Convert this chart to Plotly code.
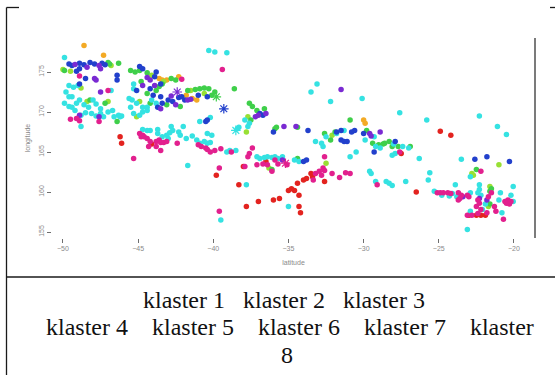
import plotly.graph_objects as go

# ---------------- data (latitude, longitude) ----------------
klaster_names = ["klaster 1", "klaster 2", "klaster 3", "klaster 4",
                 "klaster 5", "klaster 6", "klaster 7", "klaster 8"]
klaster_colors = ["#E3231F", "#F3AA25", "#98E034", "#3FCF4A",
                  "#35E2E2", "#2240CC", "#7A2AD2", "#E2208E"]

k1 = [(-44.1,166.0),(-46.2,166.9),(-46.1,166.1),(-36.5,163.8),(-33.5,162.3),(-33.4,161.9),
      (-33.8,161.7),(-34.0,161.5),(-32.6,161.3),(-27.5,164.8),(-24.9,167.6),(-24.2,167.1),
      (-26.5,160.0),(-34.4,161.1),(-34.6,160.2),(-34.8,160.4),(-35.0,160.2),(-34.3,159.6),
      (-35.6,159.2),(-36.0,159.0),(-37.0,158.8),(-37.8,158.2),(-38.3,160.9),(-38.0,163.2),
      (-39.8,162.1),(-34.3,158.2),(-34.2,157.4),(-23.0,157.1),(-22.5,157.1),(-22.2,157.1),
      (-21.9,157.1)]
k2 = [(-48.6,178.3),(-47.3,177.1),(-43.6,174.2),(-43.4,174.0),(-43.1,174.0),(-42.3,174.4),
      (-41.8,172.1),(-41.4,171.7),(-41.1,171.5),(-30.0,169.0),(-29.9,168.6)]
k3 = [(-50.0,175.3),(-49.5,175.1),(-46.8,175.8),(-48.4,171.3),(-47.0,171.3),(-44.1,174.6),
      (-43.3,173.8),(-40.6,172.3),(-44.9,171.3),(-45.1,169.4),(-37.7,169.4),(-37.8,167.5),
      (-32.1,167.1),(-36.3,163.0),(-32.5,163.6),(-21.0,163.4),(-22.8,162.3),(-22.7,162.1),
      (-21.6,160.7),(-21.7,158.2),(-48.8,173.0),(-41.5,172.7)]
k4 = [(-47.0,176.2),(-46.9,176.0),(-46.3,176.1),(-49.9,175.2),(-48.2,171.5),(-47.2,171.1),
      (-46.4,168.8),(-45.5,175.2),(-45.2,175.0),(-44.9,175.2),(-44.4,174.9),(-43.4,173.5),
      (-42.8,174.2),(-42.5,174.0),(-44.8,173.8),(-43.6,173.2),(-43.8,172.7),(-41.7,172.7),
      (-41.2,172.8),(-40.9,172.9),(-40.6,173.0),(-40.3,172.9),(-39.9,172.5),(-40.1,172.1),
      (-44.4,172.3),(-43.1,170.9),(-42.2,170.7),(-44.2,171.1),(-38.6,172.9),(-37.6,171.1),
      (-37.4,170.7),(-37.1,170.2),(-36.6,170.4),(-37.5,169.0),(-35.9,167.9),(-35.8,168.1),
      (-34.4,168.1),(-34.4,164.2),(-36.1,162.8),(-32.6,167.3),(-31.9,167.5),(-32.2,166.5),
      (-30.9,169.0),(-29.8,167.7),(-29.4,166.1),(-29.0,165.9),(-28.7,166.0),(-28.6,166.1),
      (-28.3,166.3),(-28.1,165.7),(-27.7,165.7),(-26.9,165.7),(-22.5,162.8),(-21.6,160.1),
      (-21.5,160.4),(-21.6,158.5)]
k5 = [(-49.9,176.8),(-49.6,173.3),(-49.3,173.1),(-49.0,173.3),(-49.8,172.5),(-46.8,172.7),
      (-49.4,171.9),(-48.9,171.5),(-49.1,171.1),(-48.0,171.5),(-49.9,171.1),(-49.6,170.7),
      (-49.4,170.6),(-48.6,170.9),(-47.8,171.0),(-47.5,170.4),(-49.2,170.2),(-48.8,169.6),
      (-48.5,169.9),(-48.1,169.8),(-47.8,169.5),(-47.5,169.8),(-47.0,170.0),(-46.7,170.2),
      (-46.3,169.6),(-46.6,169.4),(-46.2,169.4),(-46.1,169.5),(-48.8,168.2),(-49.6,171.9),
      (-48.3,170.6),(-47.3,169.4),
      (-45.3,173.5),(-45.3,172.9),(-44.1,171.5),(-45.6,171.7),(-45.4,171.5),(-45.1,171.1),
      (-44.7,170.6),(-44.4,170.6),(-45.5,170.6),(-43.8,171.1),(-45.3,169.8),(-44.9,169.6),
      (-44.7,170.0),(-44.4,170.2),(-40.2,169.3),(-40.9,168.8),(-40.3,177.7),(-39.9,177.5),
      (-39.1,177.4),
      (-43.7,167.3),(-43.4,166.9),(-43.1,167.1),(-42.9,167.4),(-42.7,167.7),(-42.3,167.5),
      (-42.2,167.1),(-42.0,168.2),(-42.8,168.2),(-43.0,166.7),(-41.8,166.7),(-41.4,167.0),
      (-41.1,166.5),(-40.9,166.1),(-40.6,166.3),(-40.4,166.1),(-40.2,166.2),(-40.4,167.3),
      (-40.1,167.1),(-39.1,165.0),(-38.9,165.2),(-38.5,165.2),(-38.4,167.9),(-38.3,168.1),
      (-43.7,167.8),(-44.2,167.7),(-44.4,167.7),(-44.7,167.8),(-41.7,163.3),(-37.9,169.0),
      (-37.6,168.6),(-37.7,168.2),
      (-37.1,164.4),(-36.9,164.2),(-36.6,164.3),(-36.4,164.4),(-36.1,164.3),(-35.9,164.4),
      (-35.7,164.2),(-35.4,164.4),(-34.6,164.0),(-34.3,163.8),(-37.8,160.9),(-35.0,158.2),
      (-39.5,156.5),(-33.5,172.5),(-33.1,173.5),(-32.2,171.3),(-30.1,171.7),(-33.2,166.3),
      (-32.5,166.9),(-31.8,167.3),(-32.8,166.1),(-32.7,165.7),(-31.3,167.7),(-29.9,166.5),
      (-29.3,166.9),(-29.2,165.7),(-28.9,165.5),(-28.0,166.0),(-27.4,165.7),(-27.0,165.5),
      (-28.1,164.6),(-27.9,164.8),(-30.9,164.4),(-30.5,165.0),(-29.6,162.6),(-29.5,162.3),
      (-29.2,161.3),(-28.5,161.3),(-28.3,161.1),(-28.1,160.8),(-27.2,161.3),(-25.6,162.4),
      (-25.7,161.5),(-26.3,164.2),(-27.6,169.9),(-25.8,169.0),
      (-22.3,169.5),(-21.1,168.2),(-20.5,167.2),(-23.5,164.1),(-22.9,161.9),(-23.9,160.9),
      (-22.3,160.9),(-25.3,160.1),(-24.8,159.6),(-24.3,159.5),(-24.1,159.8),(-23.8,159.4),
      (-22.9,159.9),(-22.3,160.3),(-22.4,159.9),(-22.2,159.6),(-20.9,159.9),(-20.05,160.7),
      (-20.2,159.6),(-21.9,158.5),(-22.9,157.6),(-22.1,157.8),(-20.8,157.4),(-20.05,158.8),
      (-23.1,155.3),(-21.0,159.0)]
k6 = [(-49.6,176.0),(-49.4,175.8),(-48.9,176.1),(-48.6,175.9),(-48.2,176.2),(-47.9,176.0),
      (-47.4,176.1),(-47.2,175.9),(-48.9,175.4),(-49.1,175.1),(-48.5,174.2),(-46.4,174.6),
      (-46.4,174.0),(-48.9,173.5),(-44.9,175.7),(-44.7,175.4),(-43.8,175.0),(-43.9,174.4),
      (-44.2,172.9),(-43.5,173.5),(-45.1,172.7),(-41.0,172.1),(-40.4,171.9),(-42.3,171.8),
      (-41.9,171.5),(-42.1,171.9),(-44.0,172.1),(-43.5,171.9),(-43.0,171.5),(-42.7,171.3),
      (-43.4,171.1),(-43.7,170.6),(-40.5,168.8),(-40.4,169.0),(-36.9,169.8),(-36.7,169.6),
      (-36.0,167.5),(-33.7,167.7),(-34.0,163.8),(-33.8,164.0),(-31.8,167.5),(-31.5,167.7),
      (-31.5,166.5),(-31.3,166.3),(-31.1,166.3),(-30.8,167.5),(-30.6,167.7),(-30.0,167.3),
      (-27.9,166.3),(-29.3,165.0),(-22.6,164.1),(-21.8,164.4),(-20.3,163.8)]
k7 = [(-49.2,175.95),(-48.4,175.6),(-47.6,175.8),(-47.5,175.4),(-47.8,174.0),(-47.9,174.2),
      (-47.5,172.5),(-48.9,169.6),(-47.6,169.4),(-44.4,174.3),(-44.2,174.0),(-44.7,173.3),
      (-43.9,173.3),(-42.8,172.0),(-41.7,171.5),(-41.5,171.6),(-43.5,170.4),(-42.5,170.9),
      (-37.2,169.4),(-37.0,169.6),(-36.5,169.8),(-35.3,168.2),(-34.5,168.2),(-35.4,164.0),
      (-31.5,172.8),(-29.6,167.3),(-29.5,167.0),(-28.9,167.5),(-23.4,159.4),(-21.8,159.0),
      (-22.3,159.2)]
k8 = [(-48.9,174.5),(-47.0,172.7),(-49.5,169.1),(-49.1,169.2),(-48.9,168.9),(-47.6,168.8),
      (-42.1,174.1),(-39.4,175.3),(-44.9,167.3),(-44.8,166.9),(-44.7,167.1),(-44.6,166.9),
      (-44.4,166.7),(-44.2,166.3),(-43.8,166.3),(-43.6,166.5),(-43.5,166.2),(-43.3,166.2),
      (-43.1,166.3),(-44.3,165.7),(-43.8,165.7),(-43.5,165.2),(-42.4,166.1),(-41.0,165.9),
      (-40.8,165.7),(-40.5,165.5),(-40.4,165.3),(-40.2,165.0),(-39.9,165.2),(-39.5,165.4),
      (-38.8,165.0),(-45.3,164.2),(-37.4,165.5),(-37.6,164.8),(-37.7,164.4),(-35.9,164.0),
      (-35.7,163.5),(-36.7,163.5),(-36.4,163.4),(-37.1,163.4),(-37.9,163.2),(-36.1,162.6),
      (-35.1,163.4),(-39.6,163.0),(-39.6,157.6),(-32.6,164.4),(-32.7,163.0),(-32.6,162.7),
      (-32.95,162.6),(-33.2,162.3),(-33.35,161.5),(-32.8,162.1),(-32.1,162.3),(-31.6,161.8),
      (-31.2,162.4),(-30.9,162.3),(-29.1,160.9),(-27.6,165.0),(-22.2,162.6),(-25.1,159.9),
      (-24.9,159.9),(-24.7,159.9),(-24.4,159.9),(-24.2,159.8),(-23.7,159.9),(-23.5,159.6),
      (-23.1,159.6),(-23.6,159.2),(-23.0,159.4),(-23.7,159.0),(-21.5,159.9),(-21.7,159.4),
      (-20.4,159.0),(-20.5,158.6),(-20.6,158.8),(-20.3,158.5),(-20.2,158.8),(-22.4,159.0),
      (-22.3,158.6),(-22.5,158.2),(-21.3,158.2),(-21.2,157.6),(-22.2,157.8),(-23.1,157.1),
      (-22.8,157.1),(-22.4,157.3),(-21.8,157.4),(-20.7,156.6)]

# cluster centres drawn as asterisks: (cluster index, lat, lon)
centres = [(6, -39.3, 170.4), (7, -42.4, 172.5), (8, -35.2, 163.6),
           (5, -38.5, 167.7), (4, -39.8, 171.9)]

x_ticks = [-50, -45, -40, -35, -30, -25, -20]
y_ticks = [155, 160, 165, 170, 175]
x_title = "latitude"
y_title = "longitude"
legend_lines = ["klaster 1 \u00a0 klaster 2 \u00a0 klaster 3",
                "klaster 4 \u00a0\u00a0 klaster 5 \u00a0\u00a0 klaster 6 \u00a0\u00a0 klaster 7 \u00a0\u00a0 klaster",
                "8"]

# ---------------- figure ----------------
W, H = 555, 375
L, R, T, B = 52, 20, 38, 137
PW, PH = W - L - R, H - T - B

def px(xp):   # pixel -> paper x
    return (xp - L) / PW

def py(yp):   # pixel -> paper y
    return (H - B - yp) / PH

fig = go.Figure()
clusters = [k1, k2, k3, k4, k5, k6, k7, k8]
for name, col, pts in zip(klaster_names, klaster_colors, clusters):
    fig.add_trace(go.Scatter(
        x=[p[0] for p in pts], y=[p[1] for p in pts], mode="markers", name=name,
        marker=dict(color=col, size=5.5, line=dict(width=0)), showlegend=False))

for ci, la, lo in centres:
    fig.add_trace(go.Scatter(
        x=[la], y=[lo], mode="markers", showlegend=False,
        marker=dict(symbol="asterisk-open", size=8, color=klaster_colors[ci - 1],
                    line=dict(width=1.2, color=klaster_colors[ci - 1]))))

axis_font = dict(family="Liberation Sans, Arial, sans-serif", size=7, color="#8a8a8a")
fig.update_xaxes(range=[-50.73, -18.6], tickvals=x_ticks, ticks="outside", ticklen=4,
                 tickcolor="#6e6e6e", tickwidth=1, showgrid=False, zeroline=False,
                 showline=False, tickfont=axis_font,
                 title=dict(text=x_title, font=axis_font, standoff=8))
fig.update_yaxes(range=[154.25, 179.25], tickvals=y_ticks, ticks="outside", ticklen=4,
                 tickcolor="#6e6e6e", tickwidth=1, showgrid=False, zeroline=False,
                 showline=False, tickangle=-90, tickfont=axis_font,
                 title=dict(text=y_title, font=axis_font, standoff=6))

line_col = "#1a1a1a"
shapes = [
    # plot right edge line
    dict(type="line", xref="paper", yref="paper", x0=1, x1=1, y0=0, y1=1,
         line=dict(color="#5a5a5a", width=1.6)),
    # table borders
    dict(type="line", xref="paper", yref="paper", x0=px(6.5), x1=px(6.5), y0=py(7.5), y1=py(376),
         line=dict(color=line_col, width=1.3)),
    dict(type="line", xref="paper", yref="paper", x0=px(6.5), x1=px(19), y0=py(7.5), y1=py(7.5),
         line=dict(color=line_col, width=1.3)),
    dict(type="line", xref="paper", yref="paper", x0=px(550), x1=px(556), y0=py(7.5), y1=py(7.5),
         line=dict(color=line_col, width=1.3)),
    dict(type="line", xref="paper", yref="paper", x0=px(6.5), x1=px(556), y0=py(277), y1=py(277),
         line=dict(color=line_col, width=1.3)),
]

ann = []
for txt, cx, cy in zip(legend_lines, [284, 290, 287], [300, 327, 355]):
    ann.append(dict(text=txt, xref="paper", yref="paper", x=px(cx), y=py(cy),
                    xanchor="center", yanchor="middle", showarrow=False,
                    font=dict(family="Liberation Serif, Times New Roman, serif", size=24,
                              color="#111111")))

fig.update_layout(width=W, height=H, margin=dict(l=L, r=R, t=T, b=B),
                  paper_bgcolor="white", plot_bgcolor="white",
                  shapes=shapes, annotations=ann, showlegend=False)

fig.write_html("out.html")
